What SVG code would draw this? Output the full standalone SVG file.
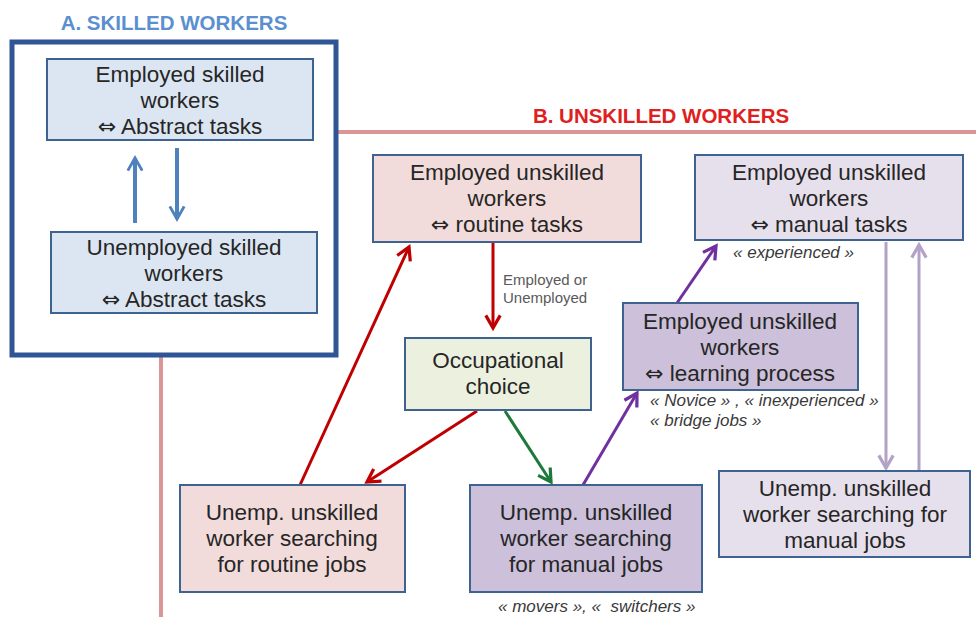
<svg xmlns="http://www.w3.org/2000/svg" width="976" height="617" viewBox="0 0 976 617">
<style>
.t{font-family:"Liberation Sans",Arial,sans-serif;font-size:22.5px;fill:#262626;text-anchor:middle}
.it{font-family:"Liberation Sans",Arial,sans-serif;font-size:17px;font-style:italic;fill:#3a3a3a}
.sm{font-family:"Liberation Sans",Arial,sans-serif;font-size:15px;fill:#595959}
.box{stroke:#3f6391;stroke-width:2}
.title{font-family:"Liberation Sans",Arial,sans-serif;font-size:20.5px;font-weight:bold;text-anchor:middle}
.sym{font-family:"DejaVu Sans",sans-serif;font-size:22px}
</style>
<defs>
<marker id="mb" viewBox="0 0 10 10" refX="8" refY="5" markerWidth="4.5" markerHeight="4.5" orient="auto" markerUnits="strokeWidth"><path d="M1,1 L8,5 L1,9" fill="none" stroke="#4f81bd" stroke-width="1.6"/></marker>
<marker id="mr" viewBox="0 0 10 10" refX="8" refY="5" markerWidth="6" markerHeight="6" orient="auto" markerUnits="strokeWidth"><path d="M1,1 L8,5 L1,9" fill="none" stroke="#c00000" stroke-width="1.8"/></marker>
<marker id="mg" viewBox="0 0 10 10" refX="8" refY="5" markerWidth="6" markerHeight="6" orient="auto" markerUnits="strokeWidth"><path d="M1,1 L8,5 L1,9" fill="none" stroke="#1e7a3c" stroke-width="1.8"/></marker>
<marker id="mp" viewBox="0 0 10 10" refX="8" refY="5" markerWidth="6" markerHeight="6" orient="auto" markerUnits="strokeWidth"><path d="M1,1 L8,5 L1,9" fill="none" stroke="#7030a0" stroke-width="1.8"/></marker>
<marker id="ml" viewBox="0 0 10 10" refX="8" refY="5" markerWidth="6" markerHeight="6" orient="auto" markerUnits="strokeWidth"><path d="M1,1 L8,5 L1,9" fill="none" stroke="#b3a2c7" stroke-width="1.8"/></marker>
</defs>
<rect width="976" height="617" fill="#fff"/>
<g id="sectionB">
<line x1="338" y1="132" x2="976" y2="132" stroke="#d99694" stroke-width="4"/>
<line x1="161" y1="356" x2="161" y2="617" stroke="#d99694" stroke-width="4"/>
<text class="title" x="661" y="123" fill="#e02020">B. UNSKILLED WORKERS</text>
</g>
<g id="sectionA">
<text class="title" x="174" y="30" fill="#5b8fd0">A. SKILLED WORKERS</text>
<rect x="12" y="42" width="324" height="313" fill="#fff" stroke="#2f5597" stroke-width="5"/>
</g>
<g id="connectors" fill="none">
<line x1="135" y1="223" x2="135" y2="158" stroke="#4f81bd" stroke-width="4" marker-end="url(#mb)"/>
<line x1="177" y1="148" x2="177" y2="219" stroke="#4f81bd" stroke-width="4" marker-end="url(#mb)"/>
<line x1="493" y1="243" x2="493" y2="328" stroke="#c00000" stroke-width="3" marker-end="url(#mr)"/>
<line x1="300" y1="485" x2="409" y2="247" stroke="#c00000" stroke-width="3" marker-end="url(#mr)"/>
<line x1="477" y1="411" x2="367" y2="482" stroke="#c00000" stroke-width="3" marker-end="url(#mr)"/>
<line x1="505" y1="411" x2="551" y2="482" stroke="#1e7a3c" stroke-width="3" marker-end="url(#mg)"/>
<line x1="583" y1="485" x2="637" y2="393" stroke="#7030a0" stroke-width="3" marker-end="url(#mp)"/>
<line x1="677" y1="303" x2="716" y2="246" stroke="#7030a0" stroke-width="3" marker-end="url(#mp)"/>
<line x1="886" y1="242" x2="886" y2="468" stroke="#b3a2c7" stroke-width="3" marker-end="url(#ml)"/>
<line x1="919" y1="470" x2="919" y2="245" stroke="#b3a2c7" stroke-width="3" marker-end="url(#ml)"/>
<text class="sm" x="503" y="285">Employed or</text>
<text class="sm" x="503" y="302.5">Unemployed</text>
</g>
<g id="skilledEmployed">
<rect class="box" x="47" y="59" width="266" height="81" fill="#dce6f2"/>
<text class="t" x="180" y="82">Employed skilled</text>
<text class="t" x="180" y="108">workers</text>
<text class="t" x="180" y="134"><tspan class="sym">⇔</tspan> Abstract tasks</text>
</g>
<g id="skilledUnemployed">
<rect class="box" x="51" y="232" width="266" height="81" fill="#dce6f2"/>
<text class="t" x="184" y="255">Unemployed skilled</text>
<text class="t" x="184" y="281">workers</text>
<text class="t" x="184" y="307"><tspan class="sym">⇔</tspan> Abstract tasks</text>
</g>
<g id="employedRoutine">
<rect class="box" x="373" y="155" width="268" height="87" fill="#f2dcdb"/>
<text class="t" x="507" y="180">Employed unskilled</text>
<text class="t" x="507" y="206">workers</text>
<text class="t" x="507" y="232"><tspan class="sym">⇔</tspan> routine tasks</text>
</g>
<g id="employedManual">
<rect class="box" x="695" y="155" width="268" height="85" fill="#e6e0ec"/>
<text class="t" x="829" y="180">Employed unskilled</text>
<text class="t" x="829" y="206">workers</text>
<text class="t" x="829" y="232"><tspan class="sym">⇔</tspan> manual tasks</text>
<text class="it" x="733" y="258">« experienced »</text>
</g>
<g id="occupationalChoice">
<rect class="box" x="405" y="338" width="186" height="72" fill="#ebf1de"/>
<text class="t" x="498" y="368">Occupational</text>
<text class="t" x="498" y="394">choice</text>
</g>
<g id="employedLearning">
<rect class="box" x="623" y="303" width="235" height="87" fill="#ccc0da"/>
<text class="t" x="740" y="329">Employed unskilled</text>
<text class="t" x="740" y="355">workers</text>
<text class="t" x="740" y="381"><tspan class="sym">⇔</tspan> learning process</text>
<text class="it" x="650" y="406">« Novice » , « inexperienced »</text>
<text class="it" x="650" y="426">« bridge jobs »</text>
</g>
<g id="unempRoutine">
<rect class="box" x="180" y="485" width="225" height="107" fill="#f2dcdb"/>
<text class="t" x="292" y="520">Unemp. unskilled</text>
<text class="t" x="292" y="546">worker searching</text>
<text class="t" x="292" y="572">for routine jobs</text>
</g>
<g id="unempManual">
<rect class="box" x="470" y="485" width="232" height="107" fill="#ccc0da"/>
<text class="t" x="586" y="520">Unemp. unskilled</text>
<text class="t" x="586" y="546">worker searching</text>
<text class="t" x="586" y="572">for manual jobs</text>
<text class="it" x="498" y="612" xml:space="preserve">« movers », «  switchers »</text>
</g>
<g id="unempManualExp">
<rect class="box" x="719" y="471" width="251" height="86" fill="#e6e0ec"/>
<text class="t" x="845" y="496">Unemp. unskilled</text>
<text class="t" x="845" y="522">worker searching for</text>
<text class="t" x="845" y="548">manual jobs</text>
</g>
</svg>
